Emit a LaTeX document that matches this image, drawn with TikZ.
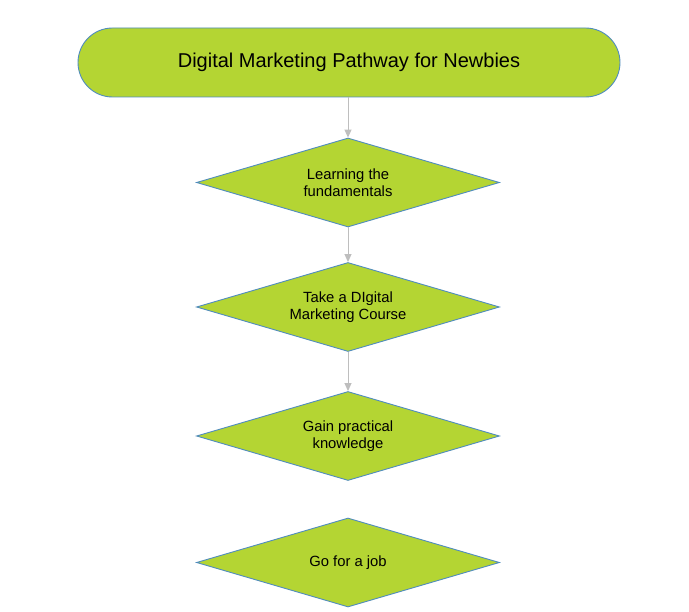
\documentclass[tikz,border=0pt]{standalone}
\usepackage{fontspec}
\setmainfont{Liberation Sans}
\usetikzlibrary{shapes.geometric,arrows.meta}
\definecolor{boxgreen}{RGB}{180,213,51}
\definecolor{boxedge}{RGB}{80,140,190}
\definecolor{linkgray}{RGB}{190,190,190}
\begin{document}
\begin{tikzpicture}[x=1pt,y=-1pt,
  titlebox/.style={draw=boxedge,fill=boxgreen,line width=0.9pt,rectangle,rounded corners=34.5pt,
    minimum width=542pt,minimum height=69pt,inner sep=0pt,
    font=\fontsize{20}{23}\selectfont},
  stepbox/.style={draw=boxedge,fill=boxgreen,line width=0.9pt,diamond,aspect=3.4,
    minimum width=303pt,minimum height=89pt,inner sep=0pt,align=center,
    font=\fontsize{14.8}{16.5}\selectfont},
  link/.style={draw=linkgray,line width=1pt,-{Triangle[width=7pt,length=8pt]}}]
\useasboundingbox (0,0) rectangle (689,612);
\fill[white] (0,0) rectangle (689,612);
\node[titlebox] (t) at (349,62.5) {Digital Marketing Pathway for Newbies};
\node[stepbox] (a) at (348,182.5) {Learning the\\ fundamentals};
\node[stepbox] (b) at (348,307) {Take a DIgital\\Marketing Course};
\node[stepbox] (c) at (348,436) {Gain practical\\ knowledge};
\node[stepbox] (d) at (348,562.5) {Go for a job};
\draw[link] (t.south -| a.north) -- (a.north);
\draw[link] (a.south) -- (b.north);
\draw[link] (b.south) -- (c.north);
\end{tikzpicture}
\end{document}
